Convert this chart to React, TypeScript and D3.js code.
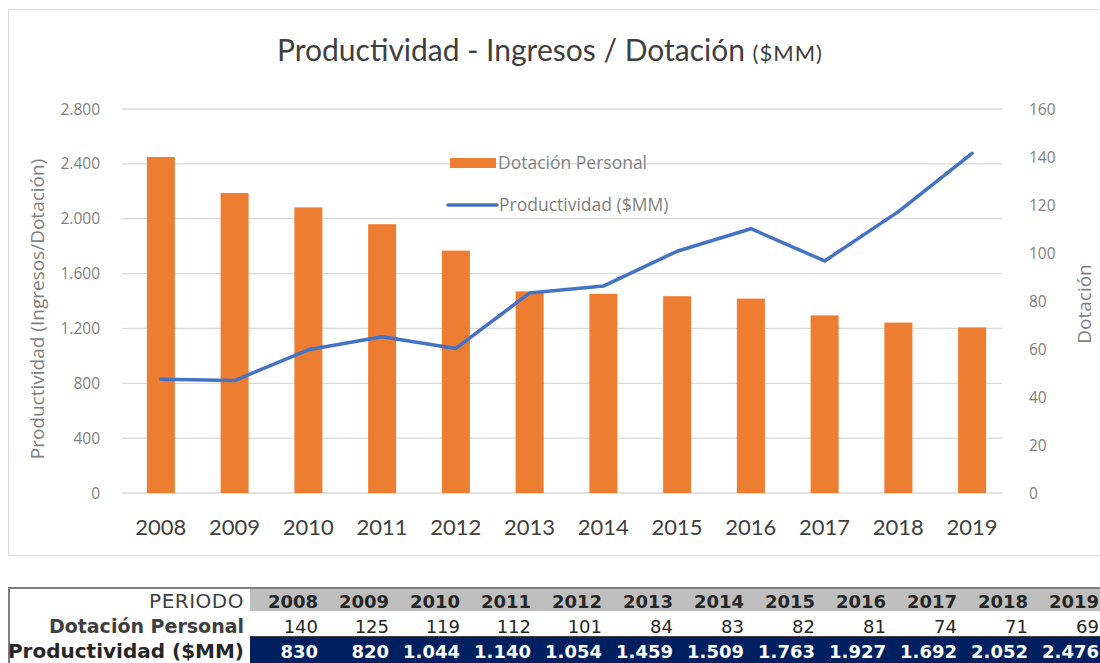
import React from 'react';
import * as d3 from 'd3';

const years = ['2008', '2009', '2010', '2011', '2012', '2013', '2014', '2015', '2016', '2017', '2018', '2019'];
const dotacion = [140, 125, 119, 112, 101, 84, 83, 82, 81, 74, 71, 69];
const productividad = [830, 820, 1044, 1140, 1054, 1459, 1509, 1763, 1927, 1692, 2052, 2476];
const leftTicks = [0, 400, 800, 1200, 1600, 2000, 2400, 2800];
const rightTicks = [0, 20, 40, 60, 80, 100, 120, 140, 160];

const ORANGE = '#ED7D31';
const BLUE = '#4472C4';
const NAVY = '#002060';
const FONT = 'Lato, "Open Sans", sans-serif';
const WIDE = '"Open Sans", sans-serif';
const TFONT = '"DejaVu Sans", sans-serif';

// miles con punto, como en el original
const fmt = (v: number) => d3.format(',')(v).replace(/,/g, '.');

const App = () => {
  const x = d3.scaleBand<string>().domain(years).range([124, 1009]).paddingInner(0.62).paddingOuter(0.31);
  const yL = d3.scaleLinear().domain([0, 2800]).range([493, 109]);
  const yR = d3.scaleLinear().domain([0, 160]).range([493, 109]);
  const cx = (d: string) => (x(d) ?? 0) + x.bandwidth() / 2;

  const line = d3.line<number>()
    .x((_, i) => cx(years[i]))
    .y(d => yL(d));

  // tabla
  const colStart = 250;
  const colW = 71;
  const colRight = (i: number) => colStart + colW * (i + 1) - 3;

  return (
    <svg width={1100} height={663} style={{ position: 'absolute', left: 0, top: 0 }}>
      <rect x={0} y={0} width={1100} height={663} fill="#fff" />
      <rect x={8.5} y={9.5} width={1100} height={546} fill="#fff" stroke="#d9d9d9" />

      <text x={277} y={61} fontFamily={FONT} fontSize={30} fill="#404040">
        Productividad - Ingresos / Dotación <tspan fontSize={22} letterSpacing={1}>($MM)</tspan>
      </text>

      {leftTicks.map(t => (
        <g key={t}>
          <line x1={122} x2={1002} y1={yL(t)} y2={yL(t)} stroke="#d9d9d9" strokeWidth={1.3} />
          <text x={100} y={yL(t) + 5.5} textAnchor="end" fontFamily={WIDE} fontSize={15.5} fill="#7f7f7f">{fmt(t)}</text>
        </g>
      ))}
      {rightTicks.map(t => (
        <text key={t} x={1029} y={yR(t) + 5.5} fontFamily={WIDE} fontSize={15.5} fill="#7f7f7f">{t}</text>
      ))}

      <text transform="translate(44,309) rotate(-90)" textAnchor="middle" fontFamily={WIDE} fontSize={19} fill="#7f7f7f">
        Productividad (Ingresos/Dotación)
      </text>
      <text transform="translate(1091,304) rotate(-90)" textAnchor="middle" fontFamily={WIDE} fontSize={19} fill="#7f7f7f">
        Dotación
      </text>

      {years.map((yr, i) => (
        <rect key={yr} x={x(yr)} y={yR(dotacion[i])} width={x.bandwidth()} height={yR(0) - yR(dotacion[i])} fill={ORANGE} />
      ))}

      <path d={line(productividad) ?? ''} fill="none" stroke={BLUE} strokeWidth={3.5} strokeLinejoin="round" strokeLinecap="round" />

      {years.map(yr => (
        <text key={yr} x={cx(yr)} y={535} textAnchor="middle" fontFamily={FONT} fontSize={22} fill="#404040">{yr}</text>
      ))}

      {/* leyenda */}
      <rect x={450} y={158} width={46} height={10} fill={ORANGE} />
      <text x={498} y={169} fontFamily={WIDE} fontSize={17.5} fill="#7f7f7f">Dotación Personal</text>
      <line x1={448} x2={497} y1={205} y2={205} stroke={BLUE} strokeWidth={3.5} strokeLinecap="round" />
      <text x={499} y={211} fontFamily={WIDE} fontSize={17.5} fill="#7f7f7f">Productividad ($MM)</text>

      {/* tabla */}
      <rect x={colStart} y={589} width={1100 - colStart} height={22} fill="#bfbfbf" />
      <rect x={colStart} y={637} width={1100 - colStart} height={26} fill={NAVY} />
      <line x1={9} x2={1100} y1={588} y2={588} stroke="#7f7f7f" strokeWidth={2} />
      <line x1={9} x2={9} y1={587} y2={663} stroke="#7f7f7f" strokeWidth={2} />
      <line x1={colStart} x2={1100} y1={636.5} y2={636.5} stroke="#404040" strokeWidth={1} />

      <text x={244} y={608} textAnchor="end" fontFamily={TFONT} fontSize={20} letterSpacing={0.5} fill="#404040">PERIODO</text>
      <text x={244} y={633} textAnchor="end" fontFamily={TFONT} fontSize={19} fontWeight="bold" fill="#404040">Dotación Personal</text>
      <text x={244} y={658} textAnchor="end" fontFamily={TFONT} fontSize={20} fontWeight="bold" fill="#262626">Productividad ($MM)</text>

      {years.map((yr, i) => (
        <g key={yr}>
          <text x={colRight(i)} y={608} textAnchor="end" fontFamily={TFONT} fontSize={18} fontWeight="bold" fill="#262626">{yr}</text>
          <text x={colRight(i)} y={633} textAnchor="end" fontFamily={TFONT} fontSize={18} fill="#262626">{dotacion[i]}</text>
          <text x={colRight(i)} y={658} textAnchor="end" fontFamily={TFONT} fontSize={18} fontWeight="bold" fill="#fff">{fmt(productividad[i])}</text>
        </g>
      ))}
    </svg>
  );
};

export default App;
